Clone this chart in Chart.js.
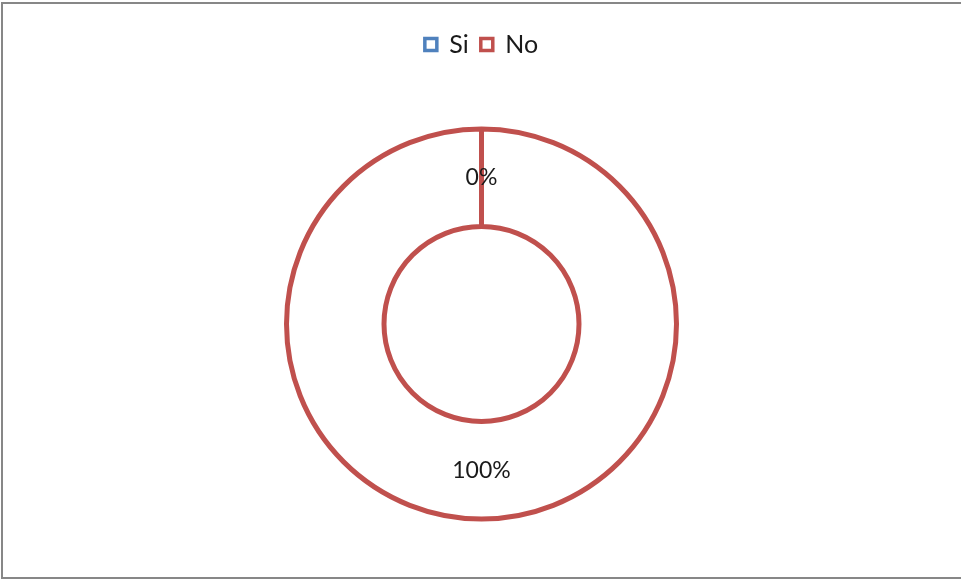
<!DOCTYPE html>
<html>
<head>
<meta charset="utf-8">
<script src="https://cdn.jsdelivr.net/npm/chart.js@4/dist/chart.umd.min.js"></script>
<style>
  html, body { margin: 0; padding: 0; background: #fff; overflow: hidden; }
  #wrap { position: relative; width: 961px; height: 581px; }
  #frame {
    position: absolute; left: 1px; top: 2px; width: 980px; height: 573px;
    border: 2px solid #878787; pointer-events: none;
  }
  canvas { position: absolute; left: 0; top: 0; }
</style>
</head>
<body>
<div id="wrap">
  <canvas id="chart" width="961" height="581"></canvas>
  <div id="frame"></div>
</div>
<script>
// Survey answers
const categories = ['Si', 'No'];
const values = [0, 100];
const sliceColors = ['#4F81BD', '#C0504D'];

const total = values.reduce((a, b) => a + b, 0);
const percentLabels = values.map(v => Math.round(v / total * 100) + '%');

const FONT = 'Lato, "Open Sans", sans-serif';

// Percentage labels placed at the middle of each ring segment
const sliceLabels = {
  id: 'sliceLabels',
  afterDatasetsDraw(chart) {
    const ctx = chart.ctx;
    const meta = chart.getDatasetMeta(0);
    ctx.save();
    ctx.font = '23px ' + FONT;
    ctx.fillStyle = '#1a1a1a';
    ctx.textAlign = 'center';
    ctx.textBaseline = 'middle';
    meta.data.forEach((arc, i) => {
      const p = arc.tooltipPosition();
      ctx.fillText(percentLabels[i], p.x, p.y);
    });
    ctx.restore();
  }
};

new Chart(document.getElementById('chart'), {
  type: 'doughnut',
  data: {
    labels: categories,
    datasets: [{
      data: values,
      backgroundColor: '#ffffff',
      borderColor: sliceColors,
      borderWidth: 5,
      hoverOffset: 0
    }]
  },
  options: {
    responsive: false,
    animation: false,
    radius: 195,
    cutout: '50%',
    layout: { padding: { top: 20, left: 2, right: 0, bottom: 0 } },
    plugins: {
      tooltip: { enabled: false },
      legend: {
        position: 'top',
        labels: {
          boxWidth: 12,
          boxHeight: 12,
          padding: 12,
          color: '#1a1a1a',
          font: { family: FONT, size: 25 },
          generateLabels(chart) {
            const items = Chart.overrides.doughnut.plugins.legend.labels.generateLabels(chart);
            return items.map((it, i) => Object.assign(it, {
              fillStyle: '#ffffff',
              strokeStyle: sliceColors[i],
              lineWidth: 3.5
            }));
          }
        }
      }
    }
  },
  plugins: [sliceLabels]
});
</script>
</body>
</html>
